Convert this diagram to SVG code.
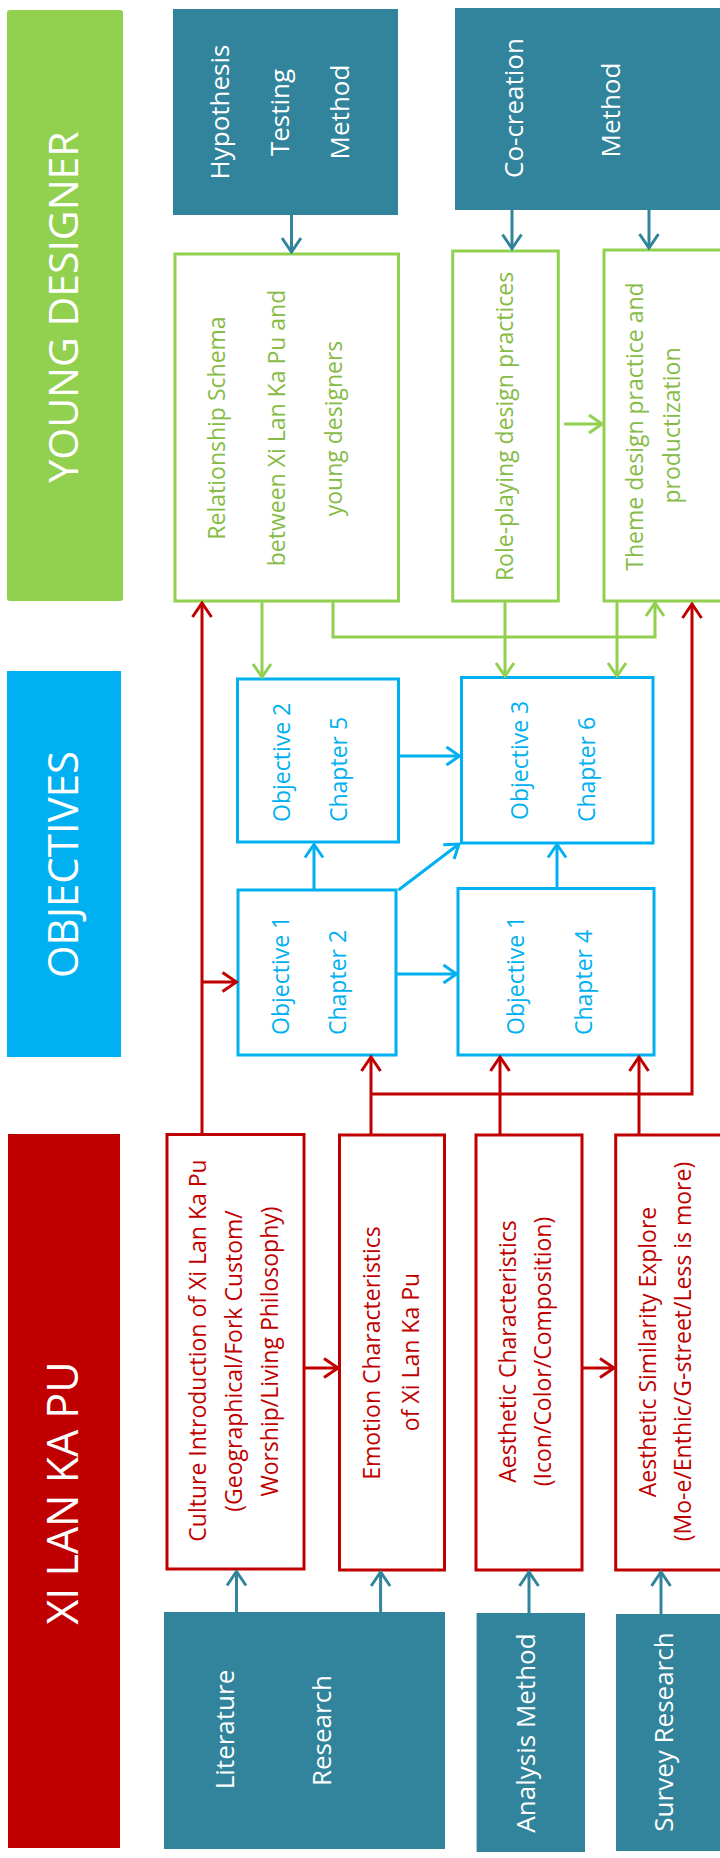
<svg xmlns="http://www.w3.org/2000/svg" width="720" height="1858" viewBox="0 0 720 1858">
<defs>
<style>
text{font-family:"Open Sans","Noto Sans",sans-serif}
.teal{fill:#31849B}
.gbox{fill:#fff;stroke:#92D050;stroke-width:3}
.bbox{fill:#fff;stroke:#00B0F0;stroke-width:3}
.rbox{fill:#fff;stroke:#C00000;stroke-width:3}
.bar{fill:#fff;text-anchor:middle}
.tw{fill:#fff;font-size:26px;text-anchor:middle}
.tg{fill:#86BB46;font-size:23px;text-anchor:middle}
.tr{fill:#C00000;font-size:23px;text-anchor:middle}
.tb{fill:#00B0F0;font-size:23px;text-anchor:start}
.cg{fill:none;stroke:#92D050;stroke-width:3;marker-end:url(#ag)}
.cr{fill:none;stroke:#C00000;stroke-width:3;marker-end:url(#ar)}
.cb{fill:none;stroke:#00B0F0;stroke-width:3;marker-end:url(#ab)}
.ct{fill:none;stroke:#31849B;stroke-width:3;marker-end:url(#at)}
</style>
<marker id="ag" viewBox="-16 -12 18 24" refX="0" refY="0" markerWidth="18" markerHeight="24" markerUnits="userSpaceOnUse" orient="auto"><path d="M-13,-9 L0,0 L-13,9" fill="none" stroke="#92D050" stroke-width="3"/></marker>
<marker id="ar" viewBox="-16 -12 18 24" refX="0" refY="0" markerWidth="18" markerHeight="24" markerUnits="userSpaceOnUse" orient="auto"><path d="M-14,-9.5 L0,0 L-14,9.5" fill="none" stroke="#C00000" stroke-width="3"/></marker>
<marker id="ab" viewBox="-16 -12 18 24" refX="0" refY="0" markerWidth="18" markerHeight="24" markerUnits="userSpaceOnUse" orient="auto"><path d="M-13,-9 L0,0 L-13,9" fill="none" stroke="#00B0F0" stroke-width="3"/></marker>
<marker id="at" viewBox="-16 -12 18 24" refX="0" refY="0" markerWidth="18" markerHeight="24" markerUnits="userSpaceOnUse" orient="auto"><path d="M-14,-9.5 L0,0 L-14,9.5" fill="none" stroke="#31849B" stroke-width="3"/></marker>
</defs>
<rect width="720" height="1858" fill="#fff"/>

<g id="bar-young-designer">
<rect x="7" y="10" width="116" height="591" rx="3" fill="#92D050"/>
<text class="bar" font-size="41" x="78" y="307" transform="rotate(-90 78 307)">YOUNG DESIGNER</text>
</g>
<g id="bar-objectives">
<rect x="7" y="671" width="114" height="386" fill="#00B0F0"/>
<text class="bar" font-size="42" x="78" y="864.5" transform="rotate(-90 78 864.5)">OBJECTIVES</text>
</g>
<g id="bar-xi-lan-ka-pu">
<rect x="8" y="1134" width="112" height="714" fill="#C00000"/>
<text class="bar" font-size="43" x="78" y="1493" transform="rotate(-90 78 1493)">XI LAN KA PU</text>
</g>

<g id="hypothesis-method">
<rect class="teal" x="173" y="9" width="225" height="206"/>
<text class="tw" x="229" y="112" transform="rotate(-90 229 112)">Hypothesis</text>
<text class="tw" x="289" y="112.5" transform="rotate(-90 289 112.5)">Testing</text>
<text class="tw" x="349" y="112" transform="rotate(-90 349 112)">Method</text>
</g>
<g id="co-creation-method">
<rect class="teal" x="455" y="8" width="280" height="202"/>
<text class="tw" x="523" y="108" transform="rotate(-90 523 108)">Co-creation</text>
<text class="tw" x="620" y="110" transform="rotate(-90 620 110)">Method</text>
</g>

<g id="relationship-schema">
<rect class="gbox" x="175" y="254" width="223.5" height="347"/>
<text class="tg" x="225" y="428" transform="rotate(-90 225 428)">Relationship Schema</text>
<text class="tg" x="285" y="428" transform="rotate(-90 285 428)">between Xi Lan Ka Pu and</text>
<text class="tg" x="342" y="428.5" transform="rotate(-90 342 428.5)">young designers</text>
</g>
<g id="role-playing">
<rect class="gbox" x="452.7" y="251" width="105.6" height="350"/>
<text class="tg" x="513" y="426.5" transform="rotate(-90 513 426.5)">Role-playing design practices</text>
</g>
<g id="theme-design">
<rect class="gbox" x="604" y="250" width="140" height="351"/>
<text class="tg" x="643" y="426.5" transform="rotate(-90 643 426.5)">Theme design practice and</text>
<text class="tg" x="680" y="425.5" transform="rotate(-90 680 425.5)">productization</text>
</g>

<g id="obj2-ch5">
<rect class="bbox" x="237.5" y="679" width="161" height="163"/>
<text class="tb" x="290" y="822" transform="rotate(-90 290 822)">Objective 2</text>
<text class="tb" x="347" y="822" transform="rotate(-90 347 822)">Chapter 5</text>
</g>
<g id="obj3-ch6">
<rect class="bbox" x="461.5" y="677.5" width="191.5" height="165.5"/>
<text class="tb" x="527.5" y="820" transform="rotate(-90 527.5 820)">Objective 3</text>
<text class="tb" x="595" y="822" transform="rotate(-90 595 822)">Chapter 6</text>
</g>
<g id="obj1-ch2">
<rect class="bbox" x="238" y="890" width="158" height="165"/>
<text class="tb" x="289" y="1035" transform="rotate(-90 289 1035)">Objective 1</text>
<text class="tb" x="346" y="1035" transform="rotate(-90 346 1035)">Chapter 2</text>
</g>
<g id="obj1-ch4">
<rect class="bbox" x="458" y="888.5" width="196" height="166.5"/>
<text class="tb" x="524" y="1035" transform="rotate(-90 524 1035)">Objective 1</text>
<text class="tb" x="592" y="1035" transform="rotate(-90 592 1035)">Chapter 4</text>
</g>

<g id="culture-introduction">
<rect class="rbox" x="167" y="1134.5" width="137" height="434.5"/>
<text class="tr" x="205.5" y="1350.5" transform="rotate(-90 205.5 1350.5)">Culture Introduction of Xi Lan Ka Pu</text>
<text class="tr" x="242" y="1361" transform="rotate(-90 242 1361)">(Geographical/Fork Custom/</text>
<text class="tr" x="278" y="1351.5" transform="rotate(-90 278 1351.5)">Worship/Living Philosophy)</text>
</g>
<g id="emotion-characteristics">
<rect class="rbox" x="339.5" y="1135" width="105" height="435"/>
<text class="tr" x="380" y="1353" transform="rotate(-90 380 1353)">Emotion Characteristics</text>
<text class="tr" x="419" y="1352" transform="rotate(-90 419 1352)">of Xi Lan Ka Pu</text>
</g>
<g id="aesthetic-characteristics">
<rect class="rbox" x="476" y="1135" width="106" height="435"/>
<text class="tr" x="516" y="1351.5" transform="rotate(-90 516 1351.5)">Aesthetic Characteristics</text>
<text class="tr" x="551" y="1351.5" transform="rotate(-90 551 1351.5)">(Icon/Color/Composition)</text>
</g>
<g id="aesthetic-similarity">
<rect class="rbox" x="615.7" y="1135" width="130" height="435"/>
<text class="tr" x="656" y="1352" transform="rotate(-90 656 1352)">Aesthetic Similarity Explore</text>
<text class="tr" x="691" y="1351.5" transform="rotate(-90 691 1351.5)">(Mo-e/Enthic/G-street/Less is more)</text>
</g>

<g id="literature-research">
<rect class="teal" x="164" y="1612" width="281" height="237"/>
<text class="tw" x="234" y="1729.5" transform="rotate(-90 234 1729.5)">Literature</text>
<text class="tw" x="330.5" y="1730.5" transform="rotate(-90 330.5 1730.5)">Research</text>
</g>
<g id="analysis-method">
<rect class="teal" x="476.6" y="1613" width="108.4" height="239"/>
<text class="tw" x="535" y="1733" transform="rotate(-90 535 1733)">Analysis Method</text>
</g>
<g id="survey-research">
<rect class="teal" x="616" y="1614" width="130" height="237"/>
<text class="tw" x="673" y="1732" transform="rotate(-90 673 1732)">Survey Research</text>
</g>

<g id="connectors">
<path class="ct" d="M291.5,215 V252"/>
<path class="ct" d="M512,210 V248.5"/>
<path class="ct" d="M649,210 V248"/>
<path class="ct" d="M236.5,1612 V1571.5"/>
<path class="ct" d="M380.6,1612 V1572"/>
<path class="ct" d="M529,1613 V1572"/>
<path class="ct" d="M661,1614 V1572"/>
<path class="cg" d="M564,424 H602"/>
<path class="cg" d="M262,601 V677"/>
<path class="cg" d="M333,601 V637 H655 V603"/>
<path class="cg" d="M505,601 V676"/>
<path class="cg" d="M617,601 V676"/>
<path class="cb" d="M399,756 H459.5"/>
<path class="cb" d="M314,890 V844.5"/>
<path class="cb" d="M398.5,890 L459,844"/>
<path class="cb" d="M557,888.5 V844.5"/>
<path class="cb" d="M396,974 H456.5"/>
<path class="cr" d="M202,1134 V603"/>
<path class="cr" d="M202,982 H236.5"/>
<path class="cr" d="M371,1135 V1057"/>
<path class="cr" d="M371,1094 H692 V604"/>
<path class="cr" d="M500,1135 V1057"/>
<path class="cr" d="M639,1135 V1057"/>
<path class="cr" d="M304,1368 H338"/>
<path class="cr" d="M582,1368 H614"/>
</g>
</svg>
